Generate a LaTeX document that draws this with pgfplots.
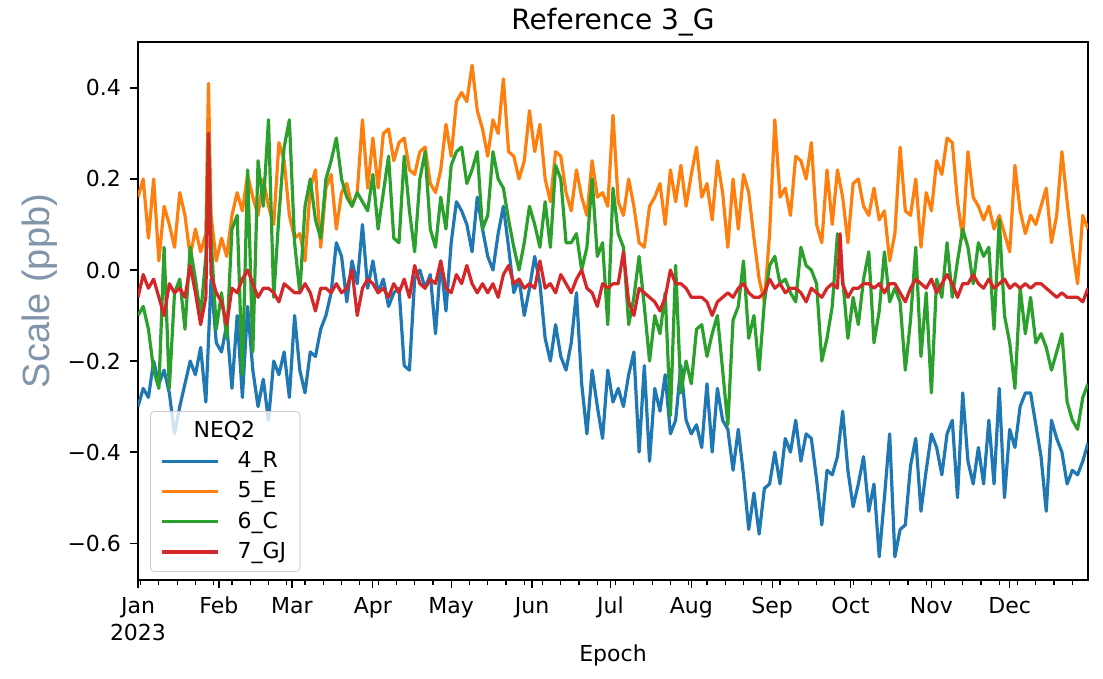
\documentclass[border=0pt]{standalone}
\usepackage{pgfplots}
\pgfplotsset{compat=1.18}
\usepackage{fontspec}
\setmainfont{DejaVu Sans}
\newfontfamily\ylfont{Liberation Sans}
\definecolor{c1}{HTML}{1F77B4}
\definecolor{c2}{HTML}{FF7F0E}
\definecolor{c3}{HTML}{2CA02C}
\definecolor{c4}{HTML}{D62728}
\definecolor{ylcol}{RGB}{128,149,169}
\begin{document}
\begin{tikzpicture}
\useasboundingbox (-69pt,-49.5pt) rectangle (482.5pt,290pt);
\begin{axis}[
  at={(0,0)}, anchor=south west,
  scale only axis, width=475pt, height=269pt,
  xmin=0, xmax=364, ymin=-0.681, ymax=0.501,
  axis line style={line width=0.7pt},
  tick align=outside, major tick length=4pt, minor tick length=2.5pt,
  tick style={black, line width=0.6pt},
  xtick pos=lower, ytick pos=left,
  xtick={0,31,59,90,120,151,181,212,243,273,304,334},
  xticklabels={Jan\\2023,Feb,Mar,Apr,May,Jun,Jul,Aug,Sep,Oct,Nov,Dec},
  minor xtick={1,8,...,358},
  ytick={-0.6,-0.4,-0.2,0,0.2,0.4},
  yticklabels={−0.6,−0.4,−0.2,0.0,0.2,0.4},
  /pgf/number format/assume math mode=true,
  tick label style={font=\fontsize{11}{13.5}\selectfont},
  xticklabel style={align=center, anchor=north, yshift=-1pt},
  yticklabel style={anchor=east, xshift=-1pt},
  title={Reference 3\_G},
  every axis title shift=0pt,
  title style={font=\fontsize{14}{16}\selectfont, at={(axis description cs:0.5,1)}, anchor=base, yshift=6pt},
  xlabel={Epoch},
  xlabel style={font=\fontsize{11}{13}\selectfont, at={(axis description cs:0.5,0)}, anchor=base, yshift=-41pt},
  ylabel={Scale (ppb)},
  ylabel style={font=\ylfont\fontsize{19}{22}\selectfont, text=ylcol, at={(axis description cs:-0.103,0.537)}, anchor=center},
  legend cell align=left,
  legend image code/.code={\draw[#1] (0pt,0pt) -- (28pt,0pt);},
  legend style={at={(axis description cs:0.0126,0.0149)}, anchor=south west,
    font=\fontsize{11}{13.5}\selectfont, draw=black!20, rounded corners=2pt,
    fill=white, fill opacity=0.8, text opacity=1, draw opacity=1,
    inner xsep=5pt, inner ysep=3pt, row sep=1.5pt, column sep=7pt},
  every axis plot/.append style={line width=1.6pt, line join=round},
]
\addlegendimage{empty legend}
\addlegendentry{\hspace*{-22pt}NEQ2}
\addplot[c1] coordinates {(0,-0.30)(2,-0.26)(4,-0.28)(6,-0.20)(8,-0.25)(10,-0.22)(12,-0.27)(14,-0.36)(16,-0.30)(18,-0.25)(20,-0.20)(22,-0.23)(24,-0.17)(26,-0.29)(28,-0.02)(30,-0.16)(32,-0.18)(34,-0.12)(36,-0.26)(38,-0.10)(40,-0.28)(42,-0.08)(44,-0.22)(46,-0.30)(48,-0.24)(50,-0.33)(52,-0.20)(54,-0.23)(56,-0.18)(58,-0.28)(60,-0.10)(62,-0.22)(64,-0.27)(66,-0.18)(68,-0.19)(70,-0.13)(72,-0.10)(74,-0.05)(76,0.06)(78,0.03)(80,-0.07)(82,0.02)(84,-0.03)(86,0.10)(88,-0.04)(90,0.02)(92,-0.05)(94,-0.02)(96,-0.08)(98,-0.05)(100,-0.04)(102,-0.21)(104,-0.22)(106,-0.02)(108,0.00)(110,-0.04)(112,-0.01)(114,-0.14)(116,0.02)(118,-0.09)(120,0.06)(122,0.15)(124,0.13)(126,0.10)(128,0.04)(130,0.16)(132,0.09)(134,0.03)(136,0.00)(138,0.08)(140,0.14)(142,0.05)(144,-0.05)(146,-0.02)(148,-0.10)(150,-0.04)(152,0.03)(154,-0.03)(156,-0.15)(158,-0.20)(160,-0.12)(162,-0.19)(164,-0.22)(166,-0.16)(168,-0.05)(170,-0.25)(172,-0.36)(174,-0.22)(176,-0.30)(178,-0.37)(180,-0.22)(182,-0.29)(184,-0.26)(186,-0.30)(188,-0.23)(190,-0.18)(192,-0.40)(194,-0.21)(196,-0.42)(198,-0.26)(200,-0.31)(202,-0.23)(204,-0.36)(206,-0.33)(208,-0.21)(210,-0.33)(212,-0.36)(214,-0.34)(216,-0.39)(218,-0.25)(220,-0.40)(222,-0.26)(224,-0.33)(226,-0.35)(228,-0.44)(230,-0.35)(232,-0.45)(234,-0.57)(236,-0.49)(238,-0.58)(240,-0.48)(242,-0.47)(244,-0.40)(246,-0.47)(248,-0.37)(250,-0.40)(252,-0.33)(254,-0.42)(256,-0.36)(258,-0.37)(260,-0.46)(262,-0.56)(264,-0.44)(266,-0.45)(268,-0.41)(270,-0.31)(272,-0.44)(274,-0.52)(276,-0.47)(278,-0.41)(280,-0.53)(282,-0.47)(284,-0.63)(286,-0.50)(288,-0.36)(290,-0.63)(292,-0.57)(294,-0.56)(296,-0.43)(298,-0.37)(300,-0.53)(302,-0.44)(304,-0.36)(306,-0.39)(308,-0.45)(310,-0.36)(312,-0.33)(314,-0.50)(316,-0.27)(318,-0.42)(320,-0.47)(322,-0.39)(324,-0.47)(326,-0.33)(328,-0.47)(330,-0.26)(332,-0.50)(334,-0.35)(336,-0.39)(338,-0.30)(340,-0.27)(342,-0.27)(344,-0.34)(346,-0.41)(348,-0.53)(350,-0.33)(352,-0.37)(354,-0.40)(356,-0.47)(358,-0.44)(360,-0.45)(362,-0.42)(364,-0.38)};
\addlegendentry{4\_R}
\addplot[c2] coordinates {(0,0.16)(2,0.20)(4,0.07)(6,0.20)(8,0.02)(10,0.14)(12,0.10)(14,0.05)(16,0.17)(18,0.12)(20,0.03)(22,0.09)(24,0.04)(26,0.08)(27,0.41)(28,0.12)(30,0.02)(32,0.07)(34,0.03)(36,0.12)(38,0.17)(40,0.13)(42,0.21)(44,0.16)(46,0.12)(48,0.20)(50,0.14)(52,0.10)(54,0.28)(56,0.24)(58,0.12)(60,0.07)(62,0.08)(64,0.02)(66,0.18)(68,0.22)(70,0.05)(72,0.18)(74,0.21)(76,0.09)(78,0.17)(80,0.19)(82,0.14)(84,0.17)(86,0.33)(88,0.18)(90,0.29)(92,0.18)(94,0.30)(96,0.31)(98,0.24)(100,0.28)(102,0.29)(104,0.22)(106,0.21)(108,0.26)(110,0.27)(112,0.19)(114,0.17)(116,0.22)(118,0.32)(120,0.25)(122,0.37)(124,0.39)(126,0.37)(128,0.45)(130,0.35)(132,0.31)(134,0.25)(136,0.33)(138,0.30)(140,0.42)(142,0.26)(144,0.25)(146,0.20)(148,0.24)(150,0.35)(152,0.26)(154,0.32)(156,0.20)(158,0.15)(160,0.26)(162,0.25)(164,0.17)(166,0.13)(168,0.22)(170,0.16)(172,0.12)(174,0.24)(176,0.16)(178,0.17)(180,0.14)(182,0.34)(184,0.15)(186,0.12)(188,0.20)(190,0.14)(192,0.06)(194,0.05)(196,0.14)(198,0.16)(200,0.19)(202,0.10)(204,0.22)(206,0.15)(208,0.23)(210,0.14)(212,0.21)(214,0.27)(216,0.16)(218,0.19)(220,0.11)(222,0.24)(224,0.17)(226,0.05)(228,0.20)(230,0.09)(232,0.21)(234,0.17)(236,0.07)(238,-0.02)(240,-0.07)(242,0.08)(244,0.33)(246,0.16)(248,0.18)(250,0.12)(252,0.25)(254,0.24)(256,0.20)(258,0.28)(260,0.10)(262,0.06)(264,0.22)(266,0.10)(268,0.22)(270,0.16)(272,0.06)(274,0.19)(276,0.20)(278,0.14)(280,0.12)(282,0.18)(284,0.11)(286,0.13)(288,0.02)(290,0.08)(292,0.27)(294,0.13)(296,0.12)(298,0.20)(300,0.05)(302,0.17)(304,0.13)(306,0.24)(308,0.21)(310,0.29)(312,0.28)(314,0.15)(316,0.07)(318,0.26)(320,0.16)(322,0.14)(324,0.11)(326,0.14)(328,0.09)(330,0.12)(332,0.08)(334,0.04)(336,0.23)(338,0.13)(340,0.08)(342,0.12)(344,0.10)(346,0.14)(348,0.18)(350,0.06)(352,0.12)(354,0.26)(356,0.15)(358,0.05)(360,-0.03)(362,0.12)(364,0.09)};
\addlegendentry{5\_E}
\addplot[c3] coordinates {(0,-0.10)(2,-0.08)(4,-0.13)(6,-0.22)(8,-0.26)(10,0.05)(12,-0.26)(14,-0.05)(16,-0.02)(18,-0.13)(20,0.05)(22,-0.02)(24,-0.10)(26,0.03)(27,0.30)(28,0.07)(30,-0.13)(32,-0.05)(34,-0.15)(36,0.09)(38,0.12)(40,-0.23)(42,0.22)(44,-0.18)(46,0.24)(48,0.14)(50,0.33)(52,-0.06)(54,0.12)(56,0.27)(58,0.33)(60,0.06)(62,-0.05)(64,0.14)(66,0.20)(68,0.11)(70,0.07)(72,0.20)(74,0.24)(76,0.29)(78,0.20)(80,0.16)(82,0.14)(84,0.17)(86,0.15)(88,0.13)(90,0.21)(92,0.09)(94,0.17)(96,0.25)(98,0.07)(100,0.06)(102,0.25)(104,0.13)(106,0.04)(108,0.20)(110,0.26)(112,0.09)(114,0.05)(116,0.16)(118,0.09)(120,0.23)(122,0.26)(124,0.27)(126,0.19)(128,0.22)(130,0.26)(132,0.09)(134,0.12)(136,0.26)(138,0.20)(140,0.18)(142,0.11)(144,0.05)(146,0.00)(148,0.06)(150,0.14)(152,0.10)(154,0.05)(156,0.15)(158,0.05)(160,0.23)(162,0.20)(164,0.06)(166,0.06)(168,0.08)(170,0.00)(172,0.05)(174,0.20)(176,0.03)(178,0.06)(180,-0.12)(182,0.18)(184,0.08)(186,0.05)(188,-0.12)(190,-0.06)(192,0.03)(194,-0.08)(196,-0.20)(198,-0.10)(200,-0.14)(202,-0.05)(204,-0.32)(206,0.01)(208,-0.27)(210,-0.20)(212,-0.25)(214,-0.13)(216,-0.12)(218,-0.19)(220,-0.14)(222,-0.10)(224,-0.22)(226,-0.34)(228,-0.11)(230,-0.08)(232,0.02)(234,-0.15)(236,-0.10)(238,-0.22)(240,-0.07)(242,0.01)(244,0.03)(246,-0.03)(248,-0.02)(250,-0.05)(252,-0.07)(254,0.05)(256,0.01)(258,0.00)(260,-0.03)(262,-0.20)(264,-0.15)(266,-0.08)(268,0.08)(270,-0.02)(272,-0.15)(274,-0.06)(276,-0.12)(278,-0.02)(280,0.04)(282,-0.16)(284,-0.09)(286,0.04)(288,-0.07)(290,-0.04)(292,-0.07)(294,-0.22)(296,-0.11)(298,0.05)(300,-0.19)(302,-0.05)(304,-0.27)(306,-0.02)(308,-0.06)(310,0.06)(312,-0.06)(314,0.02)(316,0.09)(318,0.05)(320,-0.03)(322,0.06)(324,0.03)(326,0.05)(328,-0.13)(330,0.11)(332,-0.10)(334,-0.16)(336,-0.26)(338,-0.04)(340,-0.14)(342,-0.06)(344,-0.16)(346,-0.14)(348,-0.17)(350,-0.22)(352,-0.18)(354,-0.14)(356,-0.29)(358,-0.33)(360,-0.35)(362,-0.28)(364,-0.25)};
\addlegendentry{6\_C}
\addplot[c4] coordinates {(0,-0.06)(2,-0.01)(4,-0.04)(6,-0.02)(8,-0.06)(10,-0.10)(12,-0.03)(14,-0.05)(16,-0.04)(18,-0.06)(20,0.01)(22,-0.05)(24,-0.12)(26,-0.06)(27,0.30)(28,-0.01)(30,-0.05)(32,-0.07)(34,-0.12)(36,-0.04)(38,-0.05)(40,-0.02)(42,0.00)(44,-0.03)(46,-0.06)(48,-0.04)(50,-0.04)(52,-0.05)(54,-0.07)(56,-0.03)(58,-0.04)(60,-0.05)(62,-0.05)(64,-0.03)(66,-0.05)(68,-0.09)(70,-0.04)(72,-0.04)(74,-0.05)(76,-0.03)(78,-0.05)(80,-0.04)(82,0.00)(84,-0.10)(86,-0.04)(88,-0.02)(90,-0.03)(92,-0.05)(94,-0.04)(96,-0.06)(98,-0.03)(100,-0.05)(102,-0.02)(104,-0.06)(106,0.01)(108,-0.03)(110,-0.04)(112,-0.02)(114,-0.03)(116,0.02)(118,-0.04)(120,-0.05)(122,-0.01)(124,-0.03)(126,0.01)(128,-0.03)(130,-0.05)(132,-0.03)(134,-0.05)(136,-0.03)(138,-0.06)(140,-0.01)(142,0.01)(144,-0.03)(146,-0.02)(148,-0.04)(150,-0.03)(152,-0.04)(154,0.02)(156,-0.04)(158,-0.03)(160,-0.05)(162,-0.01)(164,-0.03)(166,-0.05)(168,-0.02)(170,0.00)(172,-0.04)(174,-0.05)(176,-0.08)(178,-0.03)(180,-0.04)(182,-0.03)(184,-0.03)(186,0.04)(188,-0.07)(190,-0.10)(192,-0.04)(194,-0.05)(196,-0.06)(198,-0.07)(200,-0.09)(202,-0.06)(204,0.00)(206,-0.03)(208,-0.03)(210,-0.04)(212,-0.06)(214,-0.06)(216,-0.06)(218,-0.07)(220,-0.10)(222,-0.07)(224,-0.06)(226,-0.05)(228,-0.06)(230,-0.04)(232,-0.03)(234,-0.05)(236,-0.06)(238,-0.06)(240,-0.05)(242,-0.02)(244,-0.04)(246,-0.03)(248,-0.05)(250,-0.04)(252,-0.04)(254,-0.05)(256,-0.07)(258,-0.04)(260,-0.05)(262,-0.06)(264,-0.04)(266,-0.03)(268,-0.04)(269,0.08)(270,-0.03)(272,-0.06)(274,-0.04)(276,-0.04)(278,-0.03)(280,-0.03)(282,-0.04)(284,-0.03)(286,-0.05)(288,-0.03)(290,-0.03)(292,-0.05)(294,-0.07)(296,-0.04)(298,-0.02)(300,-0.03)(302,-0.04)(304,-0.02)(306,-0.05)(308,-0.03)(310,-0.01)(312,-0.03)(314,-0.06)(316,-0.03)(318,-0.03)(320,-0.01)(322,-0.03)(324,-0.04)(326,-0.02)(328,-0.04)(330,-0.03)(332,-0.02)(334,-0.04)(336,-0.03)(338,-0.04)(340,-0.03)(342,-0.04)(344,-0.03)(346,-0.03)(348,-0.04)(350,-0.05)(352,-0.06)(354,-0.05)(356,-0.06)(358,-0.06)(360,-0.06)(362,-0.07)(364,-0.04)};
\addlegendentry{7\_GJ}
\end{axis}
\end{tikzpicture}
\end{document}
